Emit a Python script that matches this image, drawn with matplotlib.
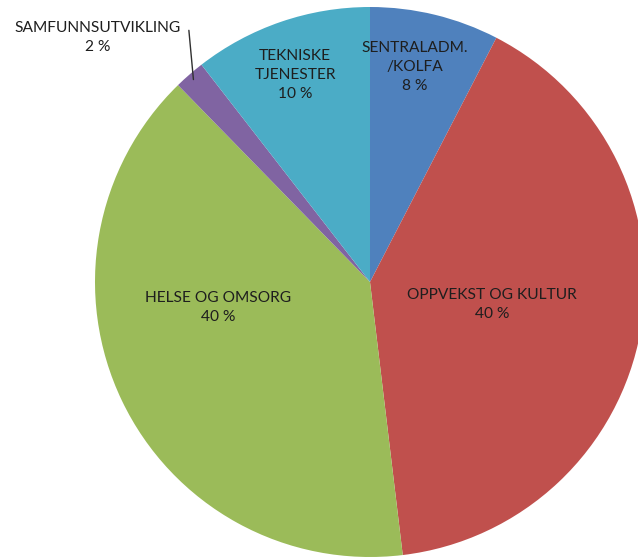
import numpy as np
import matplotlib
matplotlib.use("Agg")
import matplotlib.pyplot as plt

# Data
names = ['SENTRALADM.\n/KOLFA', 'OPPVEKST OG KULTUR', 'HELSE OG OMSORG',
         'SAMFUNNSUTVIKLING', 'TEKNISKE\nTJENESTER']
shares = [7.6, 40.5, 39.6, 1.8, 10.5]
colors = ['#4F81BD', '#C0504D', '#9BBB59', '#8064A2', '#4BACC6']

plt.rcParams['font.family'] = ['Lato', 'DejaVu Sans']

fig = plt.figure(figsize=(6.38, 5.58), dpi=100)
ax = fig.add_axes([0, 0, 1, 1])

cx, cy, R = 370, 276, 275
wedges, _ = ax.pie(shares, colors=colors, startangle=90, counterclock=False,
                   center=(cx, cy), radius=R, frame=True,
                   wedgeprops=dict(linewidth=0))
ax.set_xlim(0, 638)
ax.set_ylim(0, 558)
ax.set_aspect('equal')
ax.axis('off')

fs = 11.2
tcol = '#1e1e1e'
# label placement: radius as fraction of R, plus angle shift (deg)
label_pos = [(0.80, 2), (0.45, 0), (0.56, -16), (None, 0), (0.80, 1)]
for w, name, v, (rf, da) in zip(wedges, names, shares, label_pos):
    txt = '%s\n%d %%' % (name, round(v))
    mid = np.deg2rad((w.theta1 + w.theta2) / 2 + da)
    if rf is None:
        # outside label with leader line
        ex, ey = cx + R * np.cos(mid), cy + R * np.sin(mid)
        ax.annotate(txt, xy=(ex + 4, ey - 5), xytext=(ex - 92, ey + 37),
                    ha='center', va='center', fontsize=fs, color=tcol,
                    linespacing=1.45,
                    arrowprops=dict(arrowstyle='-', color='#303030', lw=1.0,
                                    shrinkA=0, shrinkB=0,
                                    relpos=(1.05, 0.72)))
        continue
    x = cx + rf * R * np.cos(mid)
    y = cy + rf * R * np.sin(mid)
    ax.text(x, y, txt, ha='center', va='center', fontsize=fs,
            color=tcol, linespacing=1.45)

fig.savefig('out.png', dpi=100)
